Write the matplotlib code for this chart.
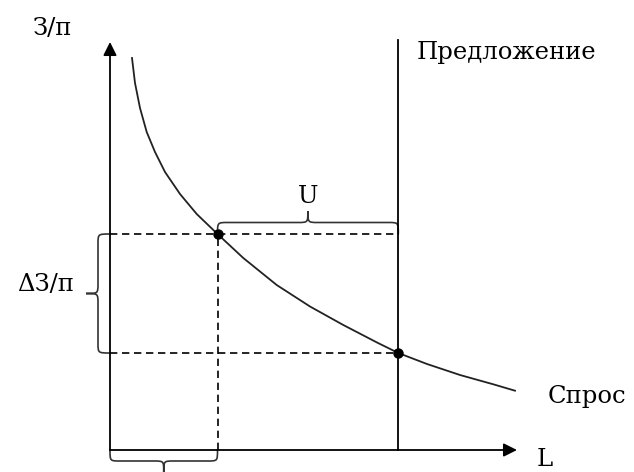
import numpy as np
import matplotlib.pyplot as plt
from matplotlib.path import Path
from matplotlib.patches import PathPatch

# demand curve (L, wage)
demand_L = [2.2, 2.5, 3.0, 3.67, 4.5, 5.5, 7.0, 8.67, 10.75, 13.33, 16.67, 20.0,
            23.33, 26.7, 28.83, 31.7, 35.0, 38.33, 40.5]
demand_W = [39.2, 36.7, 34.2, 31.8, 29.8, 27.8, 25.6, 23.6, 21.6, 19.2, 16.5, 14.35,
            12.5, 10.75, 9.7, 8.6, 7.5, 6.57, 5.93]

supply_L = 28.83
supply_top = 41.0

# the two marked points
point_L = [10.75, 28.83]
point_W = [21.6, 9.7]

x_max = 40.7
y_max = 40.8

font = 'DejaVu Serif'
fs = 17.5


def brace(ax, p0, p1, depth, r):
    # curly brace from p0 to p1, bulging to the left of the p0->p1 direction
    p0 = np.array(p0, float)
    p1 = np.array(p1, float)
    t = (p1 - p0) / np.linalg.norm(p1 - p0)
    n = np.array([-t[1], t[0]])
    q = depth / 2
    m = (p0 + p1) / 2
    pts = [p0,
           p0 + n * q, p0 + n * q, p0 + n * q + t * r,
           m + n * q - t * r,
           m + n * q, m + n * q, m + n * depth,
           m + n * q, m + n * q, m + n * q + t * r,
           p1 + n * q - t * r,
           p1 + n * q, p1 + n * q, p1]
    codes = [Path.MOVETO,
             Path.CURVE4, Path.CURVE4, Path.CURVE4,
             Path.LINETO,
             Path.CURVE4, Path.CURVE4, Path.CURVE4,
             Path.CURVE4, Path.CURVE4, Path.CURVE4,
             Path.LINETO,
             Path.CURVE4, Path.CURVE4, Path.CURVE4]
    ax.add_patch(PathPatch(Path(pts, codes), fill=False, lw=1.2, color='#333333', capstyle='round'))


fig = plt.figure(figsize=(6.34, 4.72), dpi=100)
ax = fig.add_axes([0, 0, 1, 1])
ax.set_xlim(-11, 52.4)
ax.set_ylim(-2.2, 45)
ax.axis('off')

# axes with arrows
arrow = dict(arrowstyle='-|>', mutation_scale=20, lw=1.3, color='black', shrinkA=0, shrinkB=0)
ax.annotate('', xy=(0, y_max), xytext=(0, 0), arrowprops=arrow)
ax.annotate('', xy=(x_max, 0), xytext=(0, 0), arrowprops=arrow)

# supply and demand
ax.plot([supply_L, supply_L], [0, supply_top], color='black', lw=1.3)
ax.plot(demand_L, demand_W, color='#222222', lw=1.3, solid_joinstyle='round')

# dashed guides
dash = (0, (4.4, 2.8))
ax.plot([0, supply_L], [point_W[0], point_W[0]], color='black', lw=1.2, ls=dash)
ax.plot([0, supply_L], [point_W[1], point_W[1]], color='black', lw=1.2, ls=dash)
ax.plot([point_L[0], point_L[0]], [0, point_W[0]], color='black', lw=1.2, ls=dash)

ax.plot(point_L, point_W, 'o', color='black', ms=6.5)

# braces
brace(ax, (point_L[0], point_W[0]), (supply_L, point_W[0]), 2.3, 1.0)
brace(ax, (0, point_W[0]), (0, point_W[1]), -2.4, 1.0)
brace(ax, (point_L[0], 0), (0, 0), 2.2, 1.0)

# labels
ax.text(-7.7, 41.5, 'З/п', fontsize=fs, family=font, va='baseline', ha='left')
ax.text(30.7, 39.1, 'Предложение', fontsize=fs, family=font, va='baseline', ha='left')
ax.text(43.8, 4.75, 'Спрос', fontsize=fs, family=font, va='baseline', ha='left')
ax.text(42.7, -1.65, 'L', fontsize=fs, family=font, va='baseline', ha='left')
ax.text(19.8, 24.7, 'U', fontsize=fs, family=font, va='baseline', ha='center')
ax.text(-3.6, 15.9, 'ΔЗ/п', fontsize=fs, family=font, va='baseline', ha='right')

fig.savefig('out.png', dpi=100)
